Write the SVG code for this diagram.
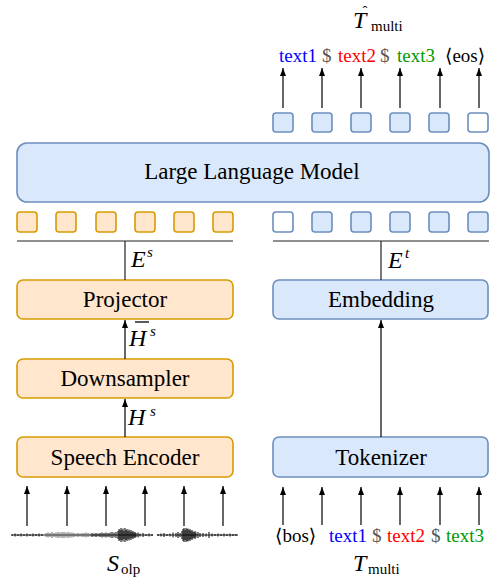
<svg xmlns="http://www.w3.org/2000/svg" width="490" height="586" viewBox="0 0 490 586">
<style>
.bb{fill:#dae8fc;stroke:#6c8ebf;stroke-width:1.6}
.ob{fill:#ffe6cc;stroke:#d79b00;stroke-width:1.6}
.wb{fill:#ffffff;stroke:#6c8ebf;stroke-width:1.6}
.lbl{font-family:"Liberation Serif","DejaVu Serif",serif;font-size:23px;fill:#000;text-anchor:middle}
.tk{font-family:"Liberation Serif","DejaVu Serif",serif;font-size:19px}
.m{font-family:"Liberation Serif","DejaVu Serif",serif;font-style:italic;font-size:24px;fill:#000}
.sub{font-family:"Liberation Serif","DejaVu Serif",serif;font-size:15px;fill:#000}
.supi{font-family:"Liberation Serif","DejaVu Serif",serif;font-style:italic;font-size:15px;fill:#000}
.ar{stroke:#000;stroke-width:1.2;fill:none;marker-end:url(#ah)}
.ln{stroke:#222;stroke-width:1.2;fill:none}
</style>
<defs>
<marker id="ah" viewBox="0 0 8 6" refX="8" refY="3" markerWidth="8" markerHeight="6" orient="auto" markerUnits="userSpaceOnUse">
<path d="M0,0 L8,3 L0,6 z" fill="#000"/>
</marker>
</defs>

<g id="llm">
<rect class="bb" x="17" y="143" width="472" height="59" rx="10"/>
<text class="lbl" x="252" y="179">Large Language Model</text>
</g>

<g id="speech-tokens">
<rect class="ob" x="17" y="212" width="20" height="20" rx="3"/>
<rect class="ob" x="56" y="212" width="20" height="20" rx="3"/>
<rect class="ob" x="96" y="212" width="20" height="20" rx="3"/>
<rect class="ob" x="135" y="212" width="20" height="20" rx="3"/>
<rect class="ob" x="174" y="212" width="20" height="20" rx="3"/>
<rect class="ob" x="213" y="212" width="20" height="20" rx="3"/>
</g>

<g id="text-tokens">
<rect class="wb" x="273" y="212" width="20" height="20" rx="3"/>
<rect class="bb" x="312" y="212" width="20" height="20" rx="3"/>
<rect class="bb" x="351" y="212" width="20" height="20" rx="3"/>
<rect class="bb" x="390" y="212" width="20" height="20" rx="3"/>
<rect class="bb" x="429" y="212" width="20" height="20" rx="3"/>
<rect class="bb" x="468" y="212" width="20" height="20" rx="3"/>
</g>

<g id="output-tokens">
<rect class="bb" x="273" y="113" width="20" height="19" rx="3"/>
<rect class="bb" x="312" y="113" width="20" height="19" rx="3"/>
<rect class="bb" x="351" y="113" width="20" height="19" rx="3"/>
<rect class="bb" x="390" y="113" width="20" height="19" rx="3"/>
<rect class="bb" x="429" y="113" width="20" height="19" rx="3"/>
<rect class="wb" x="468" y="113" width="20" height="19" rx="3"/>
</g>

<g id="projector">
<rect class="ob" x="17" y="280" width="216" height="39" rx="6"/>
<text class="lbl" x="125" y="307">Projector</text>
</g>
<g id="downsampler">
<rect class="ob" x="17" y="359" width="216" height="39" rx="6"/>
<text class="lbl" x="125" y="386">Downsampler</text>
</g>
<g id="speech-encoder">
<rect class="ob" x="17" y="437" width="216" height="40" rx="6"/>
<text class="lbl" x="125" y="465">Speech Encoder</text>
</g>
<g id="embedding">
<rect class="bb" x="273" y="280" width="215" height="39" rx="6"/>
<text class="lbl" x="381" y="307">Embedding</text>
</g>
<g id="tokenizer">
<rect class="bb" x="273" y="437" width="215" height="40" rx="6"/>
<text class="lbl" x="381" y="465">Tokenizer</text>
</g>

<g id="connectors">
<path class="ln" d="M17,241 H233 M125,241 V280"/>
<path class="ln" d="M273,241 H489 M381,241 V280"/>
<path class="ar" d="M125,359 V320"/>
<path class="ar" d="M125,437 V399"/>
<path class="ar" d="M381,437 V320"/>
<path class="ar" d="M283,108 V68"/>
<path class="ar" d="M322,108 V68"/>
<path class="ar" d="M361,108 V68"/>
<path class="ar" d="M400,108 V68"/>
<path class="ar" d="M440,108 V68"/>
<path class="ar" d="M479,108 V68"/>
<path class="ar" d="M27,526 V486"/>
<path class="ar" d="M67,526 V486"/>
<path class="ar" d="M106,526 V486"/>
<path class="ar" d="M145,526 V486"/>
<path class="ar" d="M184,526 V486"/>
<path class="ar" d="M223,526 V486"/>
<path class="ar" d="M283,525 V487"/>
<path class="ar" d="M322,525 V487"/>
<path class="ar" d="M361,525 V487"/>
<path class="ar" d="M400,525 V487"/>
<path class="ar" d="M440,525 V487"/>
<path class="ar" d="M479,525 V487"/>
</g>

<g id="labels">
<text class="m" x="131" y="267">E</text><text class="supi" x="147" y="257">s</text>
<text class="m" x="388" y="268">E</text><text class="supi" x="405" y="258">t</text>
<text class="m" x="129" y="346">H</text><text class="supi" x="150" y="336">s</text>
<path d="M135,322 H149" stroke="#000" stroke-width="1.3"/>
<text class="m" x="128" y="425">H</text><text class="supi" x="150" y="416">s</text>
</g>

<g id="output-text" class="tk">
<text x="279" y="62" fill="#0000ff">text1</text>
<text x="322" y="62" fill="#555">$</text>
<text x="338" y="62" fill="#ff0000">text2</text>
<text x="380" y="62" fill="#555">$</text>
<text x="397" y="62" fill="#009900">text3</text>
<text x="445" y="62" fill="#000">⟨eos⟩</text>
</g>
<g id="output-title">
<text class="m" x="353" y="28">T</text>
<text class="sub" x="365" y="16" font-size="24" text-anchor="middle">ˆ</text>
<text class="sub" x="371" y="31">multi</text>
</g>

<g id="input-text" class="tk">
<text x="275" y="542" fill="#000">⟨bos⟩</text>
<text x="329" y="542" fill="#0000ff">text1</text>
<text x="372" y="542" fill="#555">$</text>
<text x="387" y="542" fill="#ff0000">text2</text>
<text x="431" y="542" fill="#555">$</text>
<text x="446" y="542" fill="#009900">text3</text>
</g>
<g id="input-title">
<text class="m" x="353" y="571">T</text>
<text class="sub" x="368" y="574">multi</text>
</g>

<g id="waveform">
<path d="M12,535 H153 M157,535 H238" stroke="#222" stroke-width="1"/>
<path stroke="#000" stroke-width="1" fill="none" d="M12,534v2 M15,533.5v3 M18,534v2 M21,533.5v3 M24,534v2 M27,533.5v3 M30,534v2 M33,533.5v3 M36,534v2 M39,533.5v3 M42,534v2 M92,533v4 M94,533.5v3 M96,533v4 M98,533.5v3 M100,533v4 M102,532.5v5 M104,533v4 M106,532.5v5 M108,533v4 M110,532.5v5 M112,532v6 M114,532.5v5 M116,532v6 M118,531v8 M119,529v12 M120,530v10 M121,528v14 M122,530v10 M123,528.5v13 M124,531v8 M125,528v14 M126,530v10 M127,529v12 M128,531v8 M129,529.5v11 M130,531.5v7 M131,530v10 M132,532v6 M133,531v8 M134,532.5v5 M135,532v6 M136,533v4 M138,532.5v5 M140,533.5v3 M143,533v4 M146,534v2 M149,533.5v3 M152,534v2 M158,534v2 M161,533.5v3 M164,533v4 M167,534v2 M170,533.5v3 M173,532.5v5 M176,533v4 M178,532v6 M180,533v4 M182,531v8 M183,529v12 M184,528v14 M185,530v10 M186,528v14 M187,529v12 M188,528.5v13 M189,530v10 M190,529v12 M191,531v8 M192,530v10 M193,531.5v7 M194,532v6 M195,531v8 M196,532.5v5 M198,532v6 M200,533v4 M203,533v4 M206,533.5v3 M209,532v6 M212,533.5v3 M215,534v2 M218,533.5v3 M221,534v2 M224,533.5v3 M227,534v2 M230,533.5v3 M233,534v2 M236,534v2"/>
<path stroke="#555" stroke-width="0.9" fill="none" d="M46,533v4 M48,532.5v5 M50,533v4 M52,532v6 M54,533v4 M56,532.5v5 M58,532v6 M60,532.5v5 M62,532v6 M64,532v6 M66,532.5v5 M68,532v6 M70,532.5v5 M72,532.5v5 M74,533v4 M76,533.5v3 M78,533v4 M80,533.5v3 M82,533v4 M84,533v4 M86,532.5v5 M88,533v4 M90,533.5v3"/>
</g>
<g id="speech-title">
<text class="m" x="107" y="571">S</text>
<text class="sub" x="121" y="574">olp</text>
</g>
</svg>
